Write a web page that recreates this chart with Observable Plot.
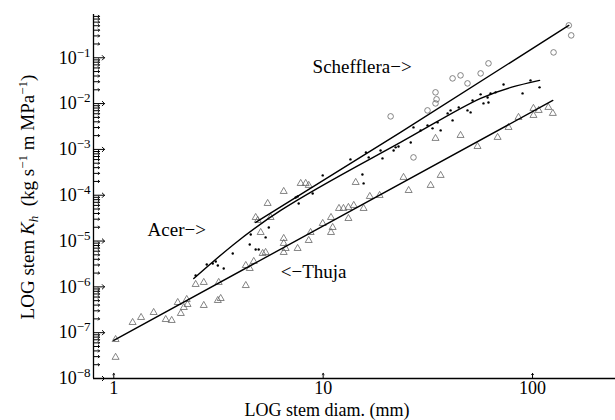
<!DOCTYPE html>
<html><head><meta charset="utf-8">
<script src="https://cdn.jsdelivr.net/npm/d3@7"></script>
<script src="https://cdn.jsdelivr.net/npm/@observablehq/plot@0.6"></script>
<style>body{margin:0;background:#fff} #chart svg{display:block}</style>
</head><body><div id="chart"></div>
<script>
// Axes
const xDomain = [0.8, 249];
const yDomain = [1e-8, 0.88];
const xTicks = [1, 10, 100];
const yMajor = [1e-8, 1e-7, 1e-6, 1e-5, 1e-4, 1e-3, 1e-2, 1e-1];

// Thuja (triangles)
const thujaD = [1.02,1.02,1.23,1.35,1.55,1.77,1.89,2.02,2.09,2.16,2.23,2.25,2.69,2.46,2.69,3.14,3.17,3.24,4.27,4.27,4.46,4.66,5.14,5.31,6.48,6.62,6.48,7.55,8.53,8.71,9.95,10.9,11.1,10.9,11.9,12.5,13.2,14.0,13.2,14.3,15.6,16.7,18.6,24.2,25.6,36.4,32.6,34.4,45.3,54.6,68.1,76.8,85.7,101,101,107,119,125,6.48];
const thujaK = [2.9e-8,7.1e-8,1.67e-7,2.15e-7,2.76e-7,1.94e-7,1.85e-7,4.56e-7,2.63e-7,3.55e-7,5.31e-7,4.13e-7,3.93e-7,1.13e-6,1.25e-6,5.05e-7,1.25e-6,5.58e-7,1.07e-6,2.93e-6,2.52e-6,3.59e-6,5.36e-6,5.64e-6,5.64e-6,6.89e-6,8.87e-6,6.89e-6,1.03e-5,1.54e-5,2.42e-5,3.27e-5,1.98e-5,1.54e-5,5.15e-5,5.15e-5,5.42e-5,5.99e-5,3.11e-5,1.9e-4,5.15e-5,9.41e-5,9.9e-5,2.45e-4,1.27e-4,2.71e-4,1.64e-4,1.74e-3,2.02e-3,1.16e-3,1.83e-3,3.02e-3,5.0e-3,5.52e-3,7.86e-3,7.1e-3,8.26e-3,6.11e-3,1.14e-5];

// Acer (dots)
const acerD = [2.46,2.78,2.97,3.14,3.07,3.35,3.70,4.46,4.51,4.76,4.92,5.31,5.50,7.39,7.64,7.55,8.91,9.95,13.5,15.4,15.6,16.0,16.5,18.8,19.2,21.7,22.2,22.9,26.2,27.0,29.2,31.5,33.3,35.2,36.4,39.3,40.6,41.5,44.4,48.9,50.6,51.7,56.5,61.0,63.0,66.6,58.3,61.6,72.7,89.6,97.8,108];
const acerK = [1.77e-6,3.08e-6,3.24e-6,2.93e-6,3.59e-6,2.52e-6,5.36e-6,8.43e-6,1.39e-5,6.56e-6,6.56e-6,1.2e-5,1.98e-5,8.95e-5,6.62e-5,9.41e-5,1.09e-4,2.71e-4,6.05e-4,2.84e-4,1.81e-4,8.6e-4,6.69e-4,9.5e-4,6.36e-4,9.5e-4,1.11e-3,1.16e-3,1.42e-3,3.02e-3,2.6e-3,3.34e-3,2.88e-3,3.89e-3,2.6e-3,6.11e-3,7.1e-3,4.3e-3,8.26e-3,7.1e-3,6.42e-3,1.17e-2,1.59e-2,1.36e-2,1.67e-2,1.76e-2,1.01e-2,1.06e-2,2.62e-2,1.67e-2,3.21e-2,2.26e-2];

// Schefflera (circles, and triangle-looking small stems)
const scheffD = [21.0,27.0,31.5,34.4,34.8,34.4,41.5,45.3,48.9,56.5,61.6,126,149,153];
const scheffK = [5.26e-3,6.69e-4,7.1e-3,1.76e-2,1.24e-2,1.01e-2,3.55e-2,4.13e-2,2.76e-2,4.56e-2,7.55e-2,0.131,0.509,0.308];
const scheffTriD = [4.76,4.87,5.03,5.43,5.61,6.48,7.81,8.25,8.53];
const scheffTriK = [3.27e-5,2.82e-5,1.54e-5,6.62e-5,3.27e-5,1.21e-4,1.81e-4,1.81e-4,1.64e-4];

// Fitted lines
const thujaFitD = [1.0, 125];
const thujaFitK = [6.8e-8, 1.17e-2];
const acerFitD = [2.41, 6.27, 23.4, 56.5, 108];
const acerFitK = [1.52e-6, 4.66e-5, 1.42e-3, 1.30e-2, 3.21e-2];
const scheffFitD = [4.76, 23.4, 149];
const scheffFitK = [2.55e-5, 2.35e-3, 0.509];

// Annotations
const annLabels = ["Schefflera\u2212>", "Acer\u2212>", "<\u2212Thuja"];
const annD = [8.9, 1.45, 6.27];
const annK = [0.0617, 1.79e-5, 2.17e-6];

const rows = (D, K) => D.map((d, i) => ({d, k: K[i]}));
const yMinor = [];
for (let e = -8; e <= 0; e++) for (let m = 2; m <= 9; m++) { const v = m * Math.pow(10, e); if (v < yDomain[1]) yMinor.push(v); }

const FONT = "'Liberation Serif', 'Times New Roman', serif";
const chart = Plot.plot({
  width: 615, height: 420,
  marginLeft: 93, marginRight: 0, marginTop: 14, marginBottom: 42,
  style: {fontFamily: FONT, fontSize: "18px", background: "white", color: "black"},
  x: {type: "log", domain: xDomain},
  y: {type: "log", domain: yDomain},
  marks: [
    Plot.axisY({ticks: yMajor, tickSize: 0, tickPadding: 3, tickFormat: d => "10^" + Math.round(Math.log10(d)), label: null, fontSize: 18}),
    Plot.axisX({ticks: xTicks, tickSize: 0, tickPadding: 3, tickFormat: d => String(d), label: null, fontSize: 18}),
    Plot.vector(yMajor, {y: d => d, frameAnchor: "left", length: 11, rotate: 90, anchor: "start", stroke: "black", strokeWidth: 1}),
    Plot.vector(yMinor, {y: d => d, frameAnchor: "left", length: 6, rotate: 90, anchor: "start", stroke: "black", strokeWidth: 1}),
    Plot.vector(xTicks, {x: d => d, frameAnchor: "bottom", length: 5, rotate: 0, anchor: "start", stroke: "black", strokeWidth: 1}),
    Plot.ruleX([xDomain[0]], {stroke: "black", strokeWidth: 1.3}),
    Plot.ruleY([yDomain[0]], {stroke: "black", strokeWidth: 1.3}),
    Plot.dot(rows(thujaD, thujaK), {x: "d", y: "k", symbol: "triangle", r: 2.6, fill: "none", stroke: "#666", strokeWidth: 0.8}),
    Plot.dot(rows(scheffTriD, scheffTriK), {x: "d", y: "k", symbol: "triangle", r: 2.6, fill: "none", stroke: "#666", strokeWidth: 0.8}),
    Plot.dot(rows(scheffD, scheffK), {x: "d", y: "k", symbol: "circle", r: 2.8, fill: "none", stroke: "#666", strokeWidth: 0.8}),
    Plot.dot(rows(acerD, acerK), {x: "d", y: "k", r: 1.2, fill: "black", stroke: "none"}),
    Plot.line(rows(thujaFitD, thujaFitK), {x: "d", y: "k", stroke: "black", strokeWidth: 1.4}),
    Plot.line(rows(acerFitD, acerFitK), {x: "d", y: "k", stroke: "black", strokeWidth: 1.4, curve: "natural"}),
    Plot.line(rows(scheffFitD, scheffFitK), {x: "d", y: "k", stroke: "black", strokeWidth: 1.4, curve: "natural"}),
    Plot.text(annLabels.map((t, i) => ({t, d: annD[i], k: annK[i]})), {x: "d", y: "k", text: "t", textAnchor: "start", fontSize: 19, fill: "black"})
  ]
});
document.getElementById("chart").appendChild(chart);

const svg = d3.select(chart);
// superscript tick labels
svg.selectAll('g[aria-label="y-axis tick label"] text').each(function() {
  const s = this.textContent; const exp = s.split("^")[1];
  const t = d3.select(this); t.text("");
  t.append("tspan").text("10");
  t.append("tspan").attr("font-size", 13).attr("dy", -7).text("\u2212" + exp.replace("-", ""));
});
// x label
svg.append("text").attr("x", 327).attr("y", 416).attr("text-anchor", "middle")
  .attr("font-family", FONT).attr("font-size", 18).attr("fill", "black").text("LOG stem diam. (mm)");
// y label
const yl = svg.append("text").attr("transform", "translate(34,197) rotate(-90)").attr("text-anchor", "middle")
  .attr("font-family", FONT).attr("font-size", 19).attr("fill", "black");
yl.append("tspan").text("LOG stem ");
yl.append("tspan").attr("font-style", "italic").text("K");
yl.append("tspan").attr("font-style", "italic").attr("font-size", 13).attr("dy", 4).text("h");
yl.append("tspan").attr("dy", -4).text("\u00a0 (kg s");
yl.append("tspan").attr("font-size", 13).attr("dy", -7).text("\u22121");
yl.append("tspan").attr("dy", 7).text(" m MPa");
yl.append("tspan").attr("font-size", 13).attr("dy", -7).text("\u22121");
yl.append("tspan").attr("dy", 7).text(")");
</script>
</body></html>
